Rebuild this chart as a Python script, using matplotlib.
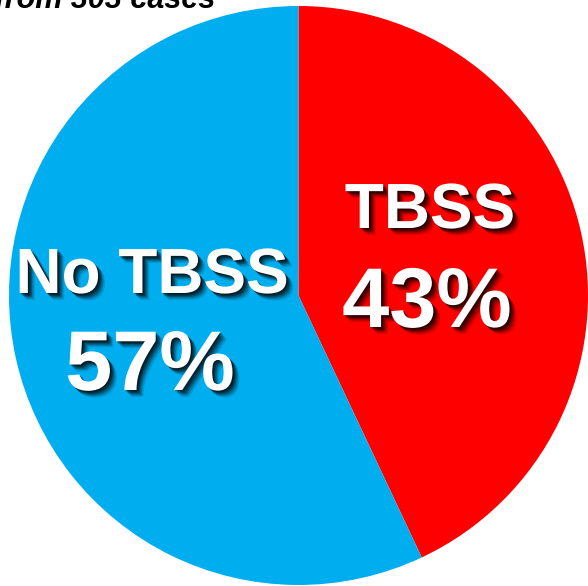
import matplotlib
matplotlib.use("Agg")
import matplotlib.pyplot as plt
import matplotlib.patheffects as pe

labels = ["TBSS", "No TBSS"]
shares = [43, 57]
colors = ["#FF0000", "#00AEEF"]

plt.rcParams['font.family'] = ['Liberation Sans', 'DejaVu Sans']

fig = plt.figure(figsize=(5.88, 5.86), dpi=100)
ax = fig.add_axes([0, 0, 1, 1])

# pie drawn clockwise from 12 o'clock, radius 1 centred at origin
ax.pie(shares, colors=colors, startangle=90, counterclock=False,
       radius=1, center=(0, 0), wedgeprops=dict(linewidth=0))
ax.set_xlim(-1.031, 1.0)
ax.set_ylim(-1.0035, 1.0207)
ax.set_aspect('auto')
ax.axis('off')

# soft drop shadow for the white labels
shadow = [pe.SimplePatchShadow(offset=(o, -o), shadow_rgbFace='black', alpha=a)
          for o, a in [(5, 0.12), (4, 0.2), (3, 0.3), (2, 0.4), (1, 0.4)]]
shadow.append(pe.Normal())


def px(x, y):
    # pixel position (from top-left) to data coords
    return (x - 298.5) / 289.5, (295.5 - y) / 289.5


label_pos = {"TBSS": [(430, 228), (427, 327)], "No TBSS": [(152, 293), (150, 390)]}
for lab, val in zip(labels, shares):
    (x1, y1), (x2, y2) = label_pos[lab]
    ax.text(*px(x1, y1), lab, ha='center', va='baseline', color='white',
            fontsize=46, fontweight='bold', path_effects=shadow)
    ax.text(*px(x2, y2), f"{val}%", ha='center', va='baseline', color='white',
            fontsize=61, fontweight='bold', path_effects=shadow)

fig.text(215 / 588, 1 - 8 / 586, "Data from 303 cases", ha='right', va='baseline',
         fontsize=22, fontweight='bold', fontstyle='italic', color='black')

fig.savefig("out.png", dpi=100)
